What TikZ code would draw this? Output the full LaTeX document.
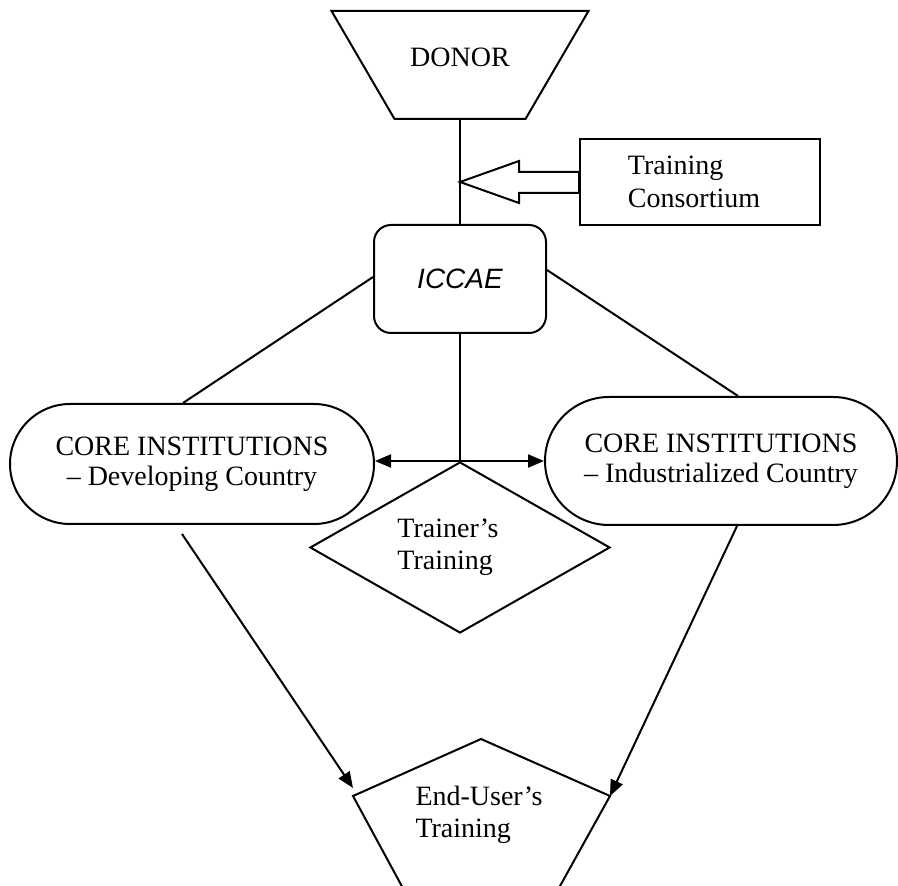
\documentclass[tikz,border=0pt]{standalone}
\usepackage{fontspec}
\setmainfont{Liberation Serif}
\newfontfamily\sansit{Liberation Sans}
\usetikzlibrary{shapes.geometric,arrows.meta}
\begin{document}
\begin{tikzpicture}[x=0.5pt,y=-0.5pt,line width=1pt,
		font=\fontsize{14}{16}\selectfont,
		corebox/.style={draw,rounded corners=30pt,minimum width=182pt,minimum height=60pt,inner sep=0pt,align=center,font=\fontsize{14}{15}\selectfont},
		flowarrow/.style={-{Triangle[length=8pt,width=6.5pt]}}]
		%%
		\useasboundingbox (0,0) rectangle (898,886);
  \node (donor) at (460,65) [minimum width=127.5pt,minimum height=53pt,inner sep=0pt,text depth=8pt] {DONOR};
  \node (cons) at (700,182) [draw,minimum width=120pt,minimum height=43pt,align=left,font=\fontsize{14}{16.5}\selectfont] {Training\\Consortium\hspace*{6pt}};
  \node (iccae) at (460,279) [draw,rounded corners=8.5pt,minimum width=86pt,minimum height=54pt] {\sansit\itshape ICCAE};
  \node (coredev) at (192,464) [corebox] {CORE INSTITUTIONS\\-- Developing Country};
  \node (coreind) at (721,461) [corebox,minimum width=176pt,minimum height=64pt,rounded corners=32pt] {CORE INSTITUTIONS\\-- Industrialized Country};
  \node (trainer) at (460,547.5) [draw,diamond,aspect=2,inner sep=0pt,minimum width=150pt,minimum height=85.5pt,align=left] {Trainer's\hspace*{12pt}\\Training};
  \node (enduser) at (479,815) [align=left] {End-User's\\Training};
  \coordinate (join) at (460,182);
  \coordinate (eu-top) at (481,739);
  \coordinate (eu-l) at (353,796);
  \coordinate (eu-r) at (610,796);
  \draw (donor.north west) -- (donor.north east) -- ([xshift=-31.5pt]donor.south east) -- ([xshift=31.5pt]donor.south west) -- cycle;
  \draw (eu-l) -- (eu-top) -- (eu-r) -- (530,940) -- (431,940) -- cycle;
  \draw (donor.south) -- (join) -- (iccae.north);
  \draw (join) -- ++(59,-21) -- ++(0,11) -- ([yshift=5pt]cons.west) -- ([yshift=-5.5pt]cons.west) -- ++(-60,0) -- ++(0,10) -- cycle;
  \draw ([yshift=1pt]iccae.west) -- ([xshift=-4.5pt]coredev.north);
  \draw ([yshift=4.5pt]iccae.east) -- ([xshift=8.5pt]coreind.north);
  \draw (iccae.south) -- (trainer.north);
  \draw [flowarrow] (trainer.north) -- (trainer.north -| coredev.east);
  \draw [flowarrow] (trainer.north) -- (trainer.north -| coreind.west);
  \draw [flowarrow] ([shift={(-10,9)}]coredev.south) -- ([yshift=4pt]eu-l);
  \draw [flowarrow] ([xshift=8pt]coreind.south) -- (eu-r);
		%
	\end{tikzpicture}
\end{document}
